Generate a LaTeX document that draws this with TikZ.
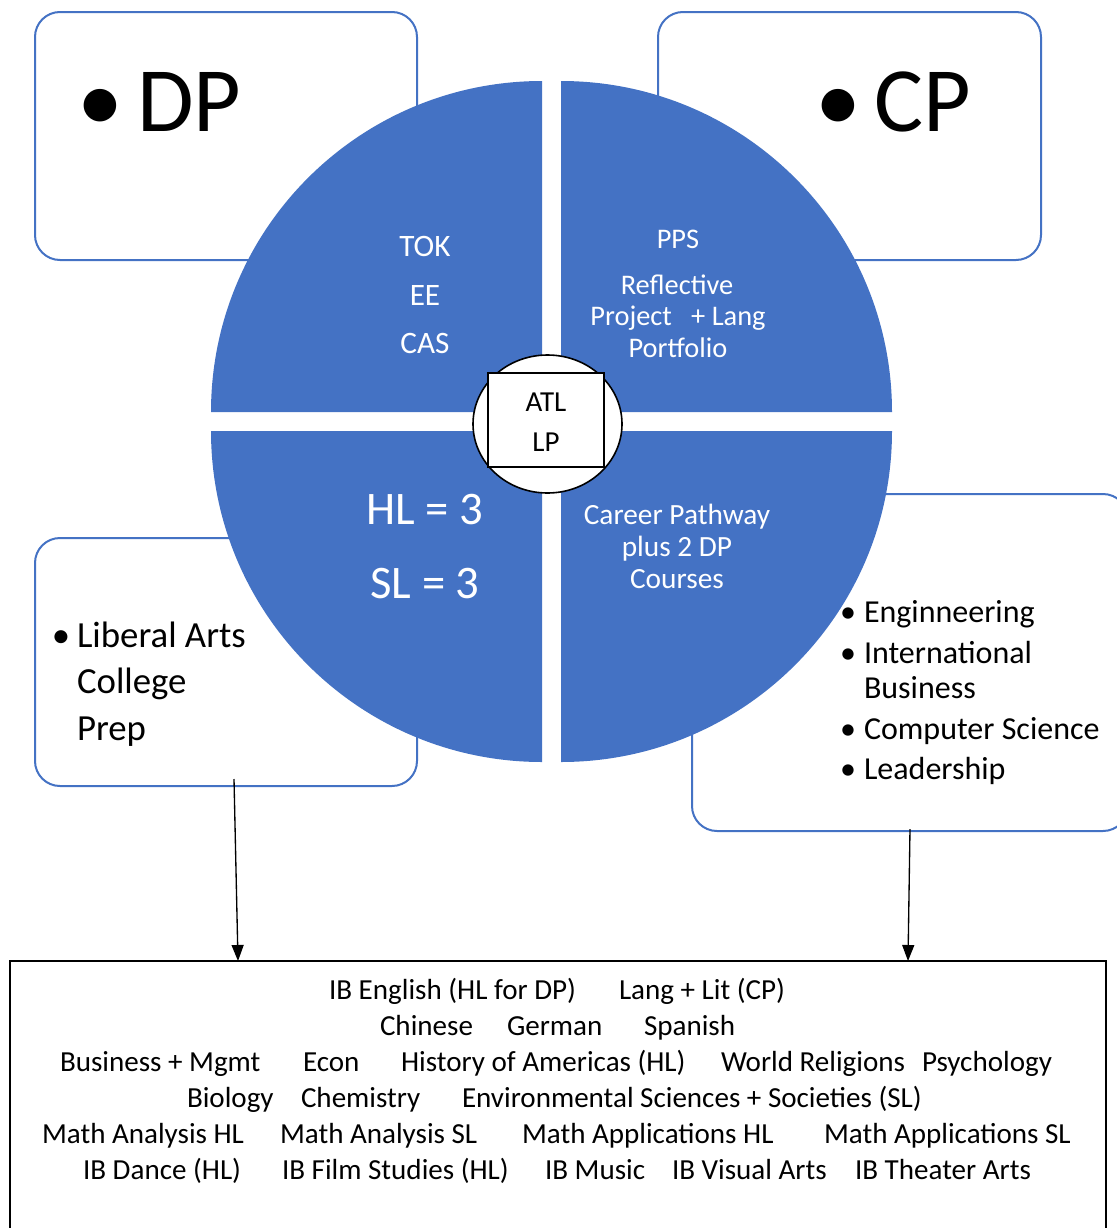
\documentclass[tikz,border=0pt]{standalone}
\usepackage{fontspec}
\setmainfont{Carlito}
\usetikzlibrary{arrows.meta,shapes.geometric}
\definecolor{ofblue}{HTML}{4472C4}
\newcommand\myfs[1]{\fontsize{#1}{#1}\selectfont}
\begin{document}
\begin{tikzpicture}[x=0.75pt,y=-0.75pt,
  every node/.style={inner sep=0pt,outer sep=0pt},
  roundbox/.style={draw=ofblue,line width=1.5pt,fill=white,rounded corners=18.75pt},
  quarter/.style={fill=ofblue},
  wtext/.style={text=white,anchor=base},
  btext/.style={text=black,anchor=base west},
  bul/.style={text=black,anchor=base},
  conn/.style={draw=black,line width=1pt,-{Triangle[length=12pt,width=9pt]}},
  listtext/.style={btext,font=\myfs{21.8pt}}
]
\useasboundingbox (0,0) rectangle (1117,1228);
\clip (0,0) rectangle (1117,1228);

% outer boxes
\node[roundbox,minimum width=286.5pt,minimum height=186pt] (dpbox) at (226,136) {};
\node[roundbox,minimum width=287.25pt,minimum height=186pt] (cpbox) at (849.5,136) {};
\node[roundbox,minimum width=286.5pt,minimum height=186pt] (labox) at (226,662) {};
\node[roundbox,minimum width=327pt,minimum height=252.75pt] (cabox) at (910,662.5) {};
\node[draw=black,line width=1.5pt,fill=white,minimum width=822pt,minimum height=213pt] (courses) at (558,1103) {};

% quarters
\fill[quarter] (542,412) -- (211,412) arc[start angle=180,end angle=270,radius=331] -- cycle;
\fill[quarter] (561,412) -- (561,81) arc[start angle=270,end angle=360,radius=331] -- cycle;
\fill[quarter] (542,431) -- (542,762) arc[start angle=90,end angle=180,radius=331] -- cycle;
\fill[quarter] (561,431) -- (892,431) arc[start angle=0,end angle=90,radius=331] -- cycle;

% hub
\node[ellipse,draw=black,line width=1.2pt,fill=white,minimum width=111.75pt,minimum height=103.5pt] (hub) at (547.5,424) {};
\node[draw=black,line width=1.3pt,fill=white,minimum width=87pt,minimum height=70.5pt] (core) at (546,420) {};
\node[bul,font=\myfs{21.75pt}] (atl) at (546,411.7) {ATL};
\node[bul,font=\myfs{21.75pt}] (lp) at (546,451.7) {LP};

% DP / CP
\node[bul,font=\myfs{69pt}] (dpb) at (100,131) {•};
\node[btext,font=\myfs{69pt}] (dpt) at (137,131) {DP};
\node[bul,font=\myfs{69pt}] (cpb) at (838,131) {•};
\node[btext,font=\myfs{69pt}] (cpt) at (874,131) {CP};

% quarter texts
\node[wtext,font=\myfs{23.4pt}] (tok) at (425,256) {TOK};
\node[wtext,font=\myfs{23.4pt}] (ee) at (425,305) {EE};
\node[wtext,font=\myfs{23.4pt}] (cas) at (425,353) {CAS};

\node[wtext,font=\myfs{21.3pt}] (pps) at (678,248) {PPS};
\node[wtext,font=\myfs{21.3pt}] (refl) at (677,294) {Reflective};
\node[wtext,font=\myfs{21.3pt}] (proj) at (678,325) {Project \ \ + Lang};
\node[wtext,font=\myfs{21.3pt}] (port) at (678,357) {Portfolio};

\node[wtext,font=\myfs{35pt}] (hl) at (425,524) {HL = 3};
\node[wtext,font=\myfs{35pt}] (sl) at (425,598) {SL = 3};

\node[wtext,font=\myfs{22pt}] (cp1) at (677,524) {Career Pathway};
\node[wtext,font=\myfs{22pt}] (cp2) at (677,556) {plus 2 DP};
\node[wtext,font=\myfs{22pt}] (cp3) at (677,588) {Courses};

% liberal arts
\node[bul,font=\myfs{27.6pt}] (lab) at (61,647) {•};
\node[btext,font=\myfs{27.6pt}] (la1) at (77,647) {Liberal Arts};
\node[btext,font=\myfs{27.6pt}] (la2) at (77,693) {College};
\node[btext,font=\myfs{27.6pt}] (la3) at (77,740) {Prep};

% career list
\node[bul,font=\myfs{24pt}] (cb1) at (848,622) {•};
\node[btext,font=\myfs{24pt}] (cl1) at (864,622) {Enginneering};
\node[bul,font=\myfs{24pt}] (cb2) at (848,663) {•};
\node[btext,font=\myfs{24pt}] (cl2) at (864,663) {International};
\node[btext,font=\myfs{24pt}] (cl2b) at (864,698) {Business};
\node[bul,font=\myfs{24pt}] (cb3) at (848,739) {•};
\node[btext,font=\myfs{24pt}] (cl3) at (864,739) {Computer Science};
\node[bul,font=\myfs{24pt}] (cb4) at (848,779) {•};
\node[btext,font=\myfs{24pt}] (cl4) at (864,779) {Leadership};

% course list
\node[listtext] (r1a) at (329,999) {IB English (HL for DP)};
\node[listtext] (r1b) at (619,999) {Lang + Lit (CP)};
\node[listtext] (r2a) at (380,1035) {Chinese};
\node[listtext] (r2b) at (507,1035) {German};
\node[listtext] (r2c) at (644,1035) {Spanish};
\node[listtext] (r3a) at (60,1071) {Business + Mgmt};
\node[listtext] (r3b) at (303,1071) {Econ};
\node[listtext] (r3c) at (401,1071) {History of Americas (HL)};
\node[listtext] (r3d) at (721,1071) {World Religions};
\node[listtext] (r3e) at (922,1071) {Psychology};
\node[listtext] (r4a) at (187,1107) {Biology};
\node[listtext] (r4b) at (301,1107) {Chemistry};
\node[listtext] (r4c) at (462,1107) {Environmental Sciences + Societies (SL)};
\node[listtext] (r5a) at (42,1143) {Math Analysis HL};
\node[listtext] (r5b) at (280,1143) {Math Analysis SL};
\node[listtext] (r5c) at (522,1143) {Math Applications HL};
\node[listtext] (r5d) at (824,1143) {Math Applications SL};
\node[listtext] (r6a) at (83,1179) {IB Dance (HL)};
\node[listtext] (r6b) at (282,1179) {IB Film Studies (HL)};
\node[listtext] (r6c) at (545,1179) {IB Music};
\node[listtext] (r6d) at (672,1179) {IB Visual Arts};
\node[listtext] (r6e) at (855,1179) {IB Theater Arts};

% connectors
\coordinate (a1s) at (234,779);
\coordinate (a1e) at (238,961);
\coordinate (a2s) at (910,829);
\coordinate (a2e) at (908,961);
\draw[conn] (a1s) -- (a1e);
\draw[conn] (a2s) -- (a2e);
\end{tikzpicture}
\end{document}
